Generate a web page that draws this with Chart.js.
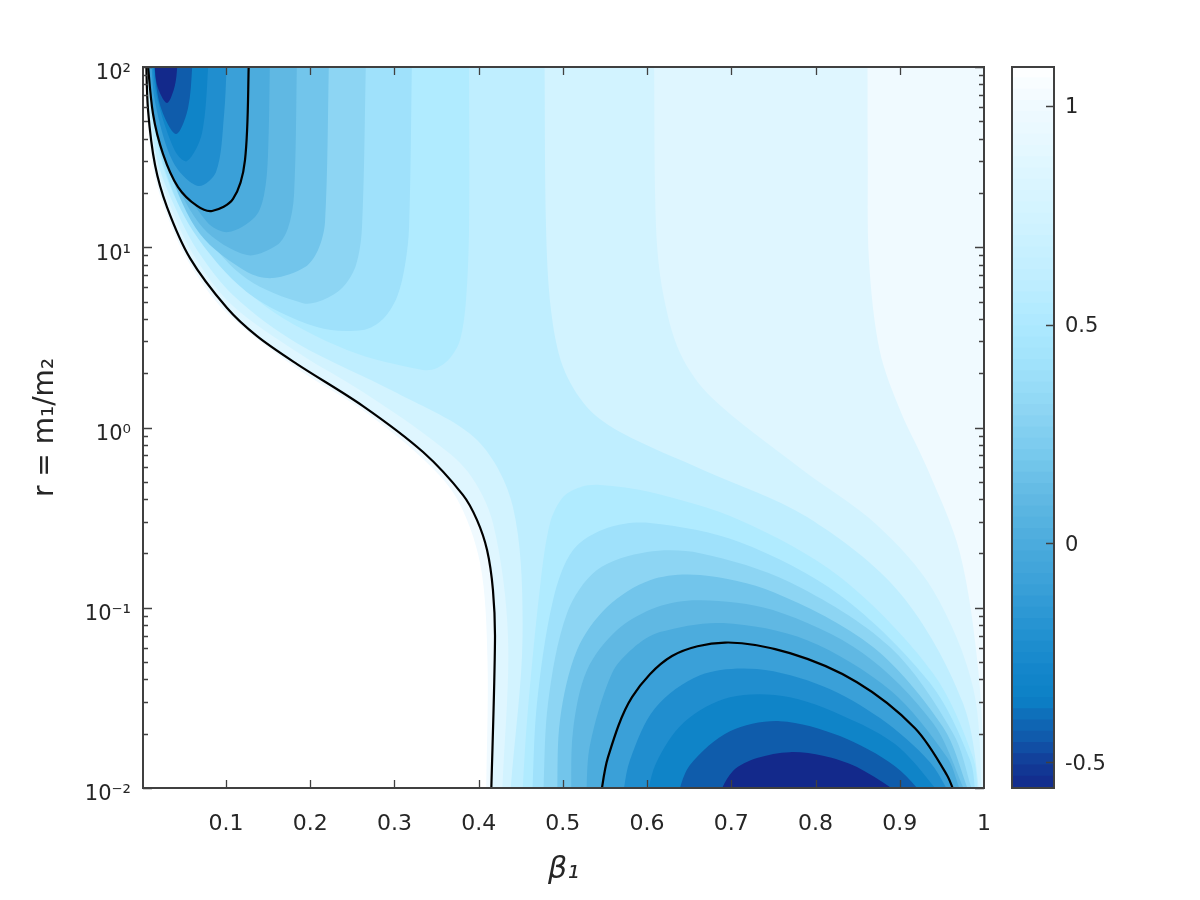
<!DOCTYPE html>
<html>
<head>
<meta charset="utf-8">
<script src="https://cdn.jsdelivr.net/npm/chart.js@4"></script>
<style>
html,body{margin:0;padding:0;background:#fff;}
#wrap{position:relative;width:1200px;height:900px;overflow:hidden;}
#main{position:absolute;left:0;top:0;}
#cbar{position:absolute;left:1000px;top:0;}
</style>
</head>
<body>
<div id="wrap">
<canvas id="main" width="1200" height="900"></canvas>
<canvas id="cbar" width="200" height="900"></canvas>
</div>
<script>
// Axis ticks
const xTickValues = [0.1,0.2,0.3,0.4,0.5,0.6,0.7,0.8,0.9,1];
const xTickLabels = ['0.1','0.2','0.3','0.4','0.5','0.6','0.7','0.8','0.9','1'];
const yTickValues = [100,10,1,0.1,0.01];
const yTickLabels = ['10²','10¹','10⁰','10⁻¹','10⁻²'];
const yMinorTicks = [90,80,70,60,50,40,30,20,9,8,7,6,5,4,3,2,0.9,0.8,0.7,0.6,0.5,0.4,0.3,0.2,0.09,0.08,0.07,0.06,0.05,0.04,0.03,0.02];
const barTickValues = [1,0.5,0,-0.5];
const barTickLabels = ['1','0.5','0','-0.5'];
const barMin = -0.559, barMax = 1.089, barSteps = 64;

// Contour regions: beta_1 and log10(r) along each boundary
const bandA_beta = [.0039,.0063,.0134,.0277,.0550,.0989,.1820,.2604,.3304,.3731,.4017,.4105,.4088,.4088,1.019,1.019];
const bandA_logR = [2.067,1.761,1.440,1.207,.924,.646,.335,.102,-.159,-.386,-.752,-1.291,-2.067,-2.345,-2.345,2.067];

const edge1_beta = [.0051,.0075,.0158,.0300,.0573,.1013,.1369,.1844,.2627,.3340,.3815,.3981,.4100,.4170,.4194,.4147];
const edge1_logR = [2.067,1.761,1.456,1.223,.940,.663,.507,.352,.119,-.136,-.375,-.514,-.680,-.902,-1.180,-2.067];

const bandB_beta = edge1_beta.concat([.4147,1.0015,1.0015,.9932,.9715,.9335,.9003,.8760,.8634,.8620,.8617]);
const bandB_logR = edge1_logR.concat([-2.345,-2.345,-2.067,-1.346,-.697,-.236,.097,.430,.929,1.484,2.067]);

const bandC_beta = [.0063,.0087,.0182,.0336,.0609,.1048,.1844,.2627,.3423,.3874,.4170,.4349,.4277,.4277,.9976,.9976,.9869,.9394,.8729,.7815,.6759,.6391,.6189,.6106,.6082];
const bandC_logR = [2.067,1.761,1.456,1.234,.962,.690,.419,.197,-.059,-.247,-.530,-1.163,-2.067,-2.345,-2.345,-2.067,-1.440,-.902,-.541,-.225,.169,.413,.746,1.112,2.067];

const bandD_beta = [.0075,.0099,.0194,.0372,.0657,.1108,.1844,.3031,.3981,.4408,.4521,.4372,.4372,.9952,.9952,.9750,.9003,.7899,.6664,.5702,.5287,.5002,.4859,.4800,.4782];
const bandD_logR = [2.067,1.761,1.467,1.245,.985,.724,.468,.191,-.070,-.442,-1.163,-2.067,-2.345,-2.345,-2.067,-1.529,-.919,-.497,-.236,-.031,.113,.335,.652,1.112,2.067];

const bandE_top_beta = [.0087,.0122,.0229,.0431,.0835,.1464,.2437,.3340,.3506,.3660,.3779,.3850,.3886,.3886];
const bandE_top_logR = [2.067,1.761,1.484,1.245,.979,.674,.430,.319,.330,.385,.485,.707,1.112,2.067];
const bandE_low_beta = [.4515,.4575,.4729,.4848,.5002,.5204,.5441,.6034,.7103,.8290,.9394,.9869,.9929];
const bandE_low_logR = [-2.067,-1.623,-.885,-.530,-.386,-.331,-.319,-.358,-.514,-.830,-1.363,-1.829,-2.067];

const bandF_top_beta = [.0099,.0134,.0277,.0609,.1250,.2081,.2627,.2865,.3031,.3126,.3174,.3209];
const bandF_top_logR = [2.067,1.761,1.428,1.090,.751,.557,.541,.602,.724,.901,1.112,2.067];
const bandF_low_beta = [.4634,.4693,.4883,.5121,.5525,.6034,.7103,.8290,.9359,.9834,.9905];
const bandF_low_logR = [-2.067,-1.529,-.958,-.680,-.558,-.530,-.636,-.930,-1.418,-1.845,-2.067];

const bandG_top_beta = [.0110,.0146,.0312,.0775,.1250,.1915,.2152,.2390,.2544,.2615,.2663];
const bandG_top_logR = [2.067,1.789,1.440,1.057,.824,.690,.707,.779,.901,1.112,2.067];
const bandG_low_beta = [.4765,.4824,.5049,.5405,.6000,.6628,.7696,.8884,.9632,.9846,.9869];
const bandG_low_logR = [-2.067,-1.529,-1.030,-.791,-.691,-.697,-.858,-1.218,-1.696,-1.995,-2.067];

const bandH_top_beta = [.0122,.0158,.0336,.0692,.1250,.1559,.1939,.2093,.2176,.2224];
const bandH_top_logR = [2.067,1.789,1.417,1.073,.862,.829,.890,.985,1.140,2.067];
const bandH_low_beta = [.4931,.4966,.5168,.5525,.6034,.6628,.7495,.8682,.9513,.9798,.9834];
const bandH_low_logR = [-2.067,-1.623,-1.235,-.996,-.847,-.819,-.913,-1.218,-1.662,-1.995,-2.067];

const bandI_top_beta = [.0134,.0170,.0360,.0728,.1250,.1606,.1737,.1808,.1844];
const bandI_top_logR = [2.067,1.789,1.417,1.107,.957,1.012,1.107,1.290,2.067];
const bandI_low_beta = [.5097,.5121,.5287,.5643,.6118,.6628,.7495,.8563,.9394,.9750,.9786];
const bandI_low_logR = [-2.067,-1.679,-1.346,-1.124,-.996,-.958,-1.013,-1.252,-1.640,-1.995,-2.067];

const bandJ_top_beta = [.0146,.0182,.0360,.0775,.1025,.1345,.1452,.1499,.1523];
const bandJ_top_logR = [2.067,1.828,1.456,1.140,1.084,1.168,1.290,1.512,2.067];
const bandJ_low_beta = [.5275,.5322,.5583,.5833,.6153,.6901,.7899,.8884,.9561,.9703,.9750];
const bandJ_low_logR = [-2.067,-1.762,-1.363,-1.224,-1.135,-1.085,-1.180,-1.457,-1.829,-1.995,-2.067];

const bandK_top_beta = [.0063,.0134,.0253,.0431,.0657,.0835,.1084,.1226,.1274];
const bandK_top_logR = [2.067,1.739,1.517,1.334,1.229,1.201,1.268,1.484,2.067];
const bandK_low_beta = [.5441,.5536,.5821,.6296,.6925,.7696,.8492,.9181,.9561,.9679];
const bandK_low_logR = [-2.067,-1.829,-1.496,-1.268,-1.193,-1.252,-1.413,-1.668,-1.929,-2.067];

const bandL_top_beta = [.0110,.0158,.0372,.0668,.0882,.0977,.1013];
const bandL_top_logR = [2.067,1.806,1.473,1.340,1.417,1.734,2.067];
const bandL_low_beta = [.5702,.5797,.6094,.6628,.7305,.8088,.8765,.9359,.9632];
const bandL_low_logR = [-2.067,-1.845,-1.557,-1.374,-1.340,-1.435,-1.612,-1.857,-2.067];

const bandM_top_beta = [.0122,.0182,.0395,.0538,.0716,.0799];
const bandM_top_logR = [2.067,1.828,1.534,1.478,1.634,2.067];
const bandM_low_beta = [.5987,.6106,.6438,.6984,.7696,.8492,.9003,.9537];
const bandM_low_logR = [-2.067,-1.862,-1.635,-1.496,-1.496,-1.635,-1.779,-2.067];

const bandN_top_beta = [.0134,.0217,.0407,.0550,.0609];
const bandN_top_logR = [2.067,1.789,1.628,1.772,2.067];
const bandN_low_beta = [.6343,.6509,.6984,.7578,.8290,.8943,.9335];
const bandN_low_logR = [-2.067,-1.873,-1.685,-1.629,-1.712,-1.879,-2.067];

const bandO_top_beta = [.0146,.0182,.0300,.0395,.0431];
const bandO_top_logR = [2.067,1.900,1.800,1.900,2.067];
const bandO_low_beta = [.6817,.7019,.7305,.7696,.8088,.8492,.9121];
const bandO_low_logR = [-2.067,-1.906,-1.834,-1.801,-1.821,-1.884,-2.067];

// Fill colour of each region, palest first
const bandColors = {A:'#F0FAFF',B:'#DFF6FF',C:'#D2F3FF',D:'#BFEEFF',E:'#B0EBFF',F:'#9FE1FB',G:'#8DD5F3',H:'#72C5EB',I:'#60B8E3',J:'#4CACDD',K:'#3AA0D8',L:'#208ECF',M:'#0F84C8',N:'#0F5CAB',O:'#13298B'};

// Colour bar ramp: value and colour
const rampValues = [1.089,1.0,0.9,0.75,0.6,0.5,0.4,0.3,0.2,0.1,0,-0.1,-0.2,-0.3,-0.36,-0.4,-0.45,-0.5,-0.559];
const rampColors = ['#FFFFFF','#F0FAFF','#E4F8FF','#D2F3FF','#BFEEFF','#ADE9FF','#9FE1FB','#8DD5F3','#77C9ED','#60B8E3','#4CACDD','#3AA0D8','#2492D1','#1285CA','#0C80C6','#0F6CB8','#1058AA','#123E99','#13298B'];

const FRAME = '#404040', TEXT = '#262626', FONT = '"DejaVu Sans", sans-serif';
const CURVE_TENSION = 0.32;

function pts(b, l){ return b.map((v,i)=>({x:v, y:Math.pow(10,l[i])})); }
function region(color,b,l){
  return {data:pts(b,l), showLine:true, fill:'shape', backgroundColor:color, borderWidth:0, borderColor:color,
          pointRadius:0, tension:CURVE_TENSION, capBezierPoints:false};
}
function contourLine(b,l){
  return {data:pts(b,l), showLine:true, fill:false, borderColor:'#000000', borderWidth:2.2,
          pointRadius:0, tension:CURVE_TENSION, capBezierPoints:false};
}
const painted = [
  region(bandColors.A,bandA_beta,bandA_logR),
  region(bandColors.B,bandB_beta,bandB_logR),
  region(bandColors.C,bandC_beta,bandC_logR),
  region(bandColors.D,bandD_beta,bandD_logR),
  region(bandColors.E,bandE_top_beta,bandE_top_logR), region(bandColors.E,bandE_low_beta,bandE_low_logR),
  region(bandColors.F,bandF_top_beta,bandF_top_logR), region(bandColors.F,bandF_low_beta,bandF_low_logR),
  region(bandColors.G,bandG_top_beta,bandG_top_logR), region(bandColors.G,bandG_low_beta,bandG_low_logR),
  region(bandColors.H,bandH_top_beta,bandH_top_logR), region(bandColors.H,bandH_low_beta,bandH_low_logR),
  region(bandColors.I,bandI_top_beta,bandI_top_logR), region(bandColors.I,bandI_low_beta,bandI_low_logR),
  region(bandColors.J,bandJ_top_beta,bandJ_top_logR), region(bandColors.J,bandJ_low_beta,bandJ_low_logR),
  region(bandColors.K,bandK_top_beta,bandK_top_logR), region(bandColors.K,bandK_low_beta,bandK_low_logR),
  region(bandColors.L,bandL_top_beta,bandL_top_logR), region(bandColors.L,bandL_low_beta,bandL_low_logR),
  region(bandColors.M,bandM_top_beta,bandM_top_logR), region(bandColors.M,bandM_low_beta,bandM_low_logR),
  region(bandColors.N,bandN_top_beta,bandN_top_logR), region(bandColors.N,bandN_low_beta,bandN_low_logR),
  region(bandColors.O,bandO_top_beta,bandO_top_logR), region(bandColors.O,bandO_low_beta,bandO_low_logR),
  contourLine(edge1_beta,edge1_logR),
  contourLine(bandK_top_beta,bandK_top_logR),
  contourLine(bandK_low_beta,bandK_low_logR)
];

const frameTicks = {
  id:'frameTicks',
  afterDatasetsDraw(chart){
    const {ctx,chartArea:a,scales:{x,y}} = chart;
    ctx.save();
    ctx.strokeStyle = FRAME; ctx.lineWidth = 1.3;
    ctx.beginPath();
    xTickValues.forEach(v=>{
      if(v>=1) return;
      const p = Math.round(x.getPixelForValue(v))+0.5;
      ctx.moveTo(p,a.bottom); ctx.lineTo(p,a.bottom-8);
      ctx.moveTo(p,a.top); ctx.lineTo(p,a.top+8);
    });
    const side = (v,len)=>{
      const p = Math.round(y.getPixelForValue(v))+0.5;
      ctx.moveTo(a.left,p); ctx.lineTo(a.left+len,p);
      ctx.moveTo(a.right,p); ctx.lineTo(a.right-len,p);
    };
    yTickValues.forEach(v=>side(v,9));
    yMinorTicks.forEach(v=>side(v,5));
    ctx.stroke();
    ctx.lineWidth = 2;
    ctx.strokeRect(a.left,a.top,a.right-a.left,a.bottom-a.top);
    ctx.restore();
  }
};

new Chart(document.getElementById('main'),{
  type:'scatter',
  data:{datasets:painted.slice().reverse()},
  plugins:[frameTicks],
  options:{
    responsive:false, animation:false,
    layout:{padding:{left:0,top:67,right:216,bottom:0}},
    plugins:{legend:{display:false},tooltip:{enabled:false},title:{display:false}},
    scales:{
      x:{type:'linear',min:0.0015,max:1,
        grid:{display:false,drawTicks:false},border:{display:false},
        afterBuildTicks(s){s.ticks = xTickValues.map(v=>({value:v}));},
        afterFit(s){s.height = 112;},
        ticks:{autoSkip:false,maxRotation:0,padding:23,color:TEXT,font:{family:FONT,size:22},
          callback(v){const i=xTickValues.indexOf(v);return i<0?'':xTickLabels[i];}},
        title:{display:true,text:'β₁',color:TEXT,font:{family:FONT,size:30,style:'italic'},padding:{top:0,bottom:12}}
      },
      y:{type:'logarithmic',min:0.01,max:100,
        grid:{display:false,drawTicks:false},border:{display:false},
        afterBuildTicks(s){s.ticks = yTickValues.map(v=>({value:v}));},
        afterFit(s){s.width = 143;},
        ticks:{autoSkip:false,padding:12,labelOffset:7,color:TEXT,font:{family:FONT,size:21},
          callback(v){const i=yTickValues.indexOf(v);return i<0?'':yTickLabels[i];}},
        title:{display:true,text:'r = m₁/m₂',color:TEXT,font:{family:FONT,size:28},padding:{top:29,bottom:0}}
      }
    }
  }
});

// Colour bar
function rampColor(v){
  let i = 0;
  while(i<rampValues.length-2 && v<rampValues[i+1]) i++;
  const t = (rampValues[i]-v)/(rampValues[i]-rampValues[i+1]);
  const c = s=>[1,3,5].map(k=>parseInt(s.substr(k,2),16));
  const a = c(rampColors[i]), b = c(rampColors[i+1]);
  return 'rgb('+a.map((q,k)=>Math.round(q+(b[k]-q)*t)).join(',')+')';
}
const barStep = (barMax-barMin)/barSteps;
const barSets = [];
for(let k=0;k<barSteps;k++){
  const lo = barMin+k*barStep, hi = lo+barStep;
  barSets.push({data:[[lo,Math.min(barMax,hi+barStep*0.05)]],backgroundColor:rampColor((lo+hi)/2),
    borderWidth:0,barPercentage:1,categoryPercentage:1});
}
const barFrame = {
  id:'barFrame',
  afterDatasetsDraw(chart){
    const {ctx,chartArea:a,scales:{y}} = chart;
    ctx.save();
    ctx.strokeStyle = FRAME; ctx.lineWidth = 1.3;
    ctx.beginPath();
    barTickValues.forEach(v=>{
      const p = Math.round(y.getPixelForValue(v))+0.5;
      ctx.moveTo(a.right,p); ctx.lineTo(a.right-8,p);
    });
    ctx.stroke();
    ctx.lineWidth = 2;
    ctx.strokeRect(a.left,a.top,a.right-a.left,a.bottom-a.top);
    ctx.restore();
  }
};
new Chart(document.getElementById('cbar'),{
  type:'bar',
  data:{labels:[''],datasets:barSets},
  plugins:[barFrame],
  options:{
    responsive:false, animation:false,
    layout:{padding:{left:12,top:67,right:0,bottom:112}},
    plugins:{legend:{display:false},tooltip:{enabled:false},title:{display:false}},
    scales:{
      x:{stacked:true,display:false},
      y:{position:'right',min:barMin,max:barMax,
        grid:{display:false,drawTicks:false},border:{display:false},
        afterBuildTicks(s){s.ticks = barTickValues.map(v=>({value:v}));},
        afterFit(s){s.width = 146;},
        ticks:{autoSkip:false,padding:11,labelOffset:2,color:TEXT,font:{family:FONT,size:21},
          callback(v){const i=barTickValues.indexOf(v);return i<0?'':barTickLabels[i];}}
      }
    }
  }
});
</script>
</body>
</html>
